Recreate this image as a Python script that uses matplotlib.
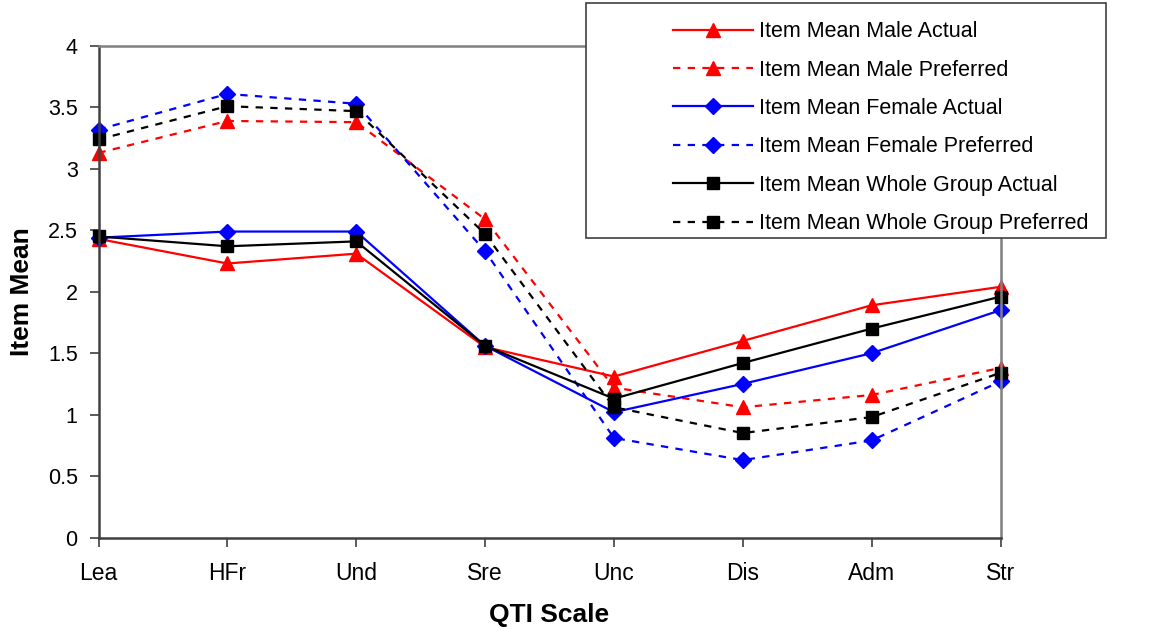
import matplotlib
matplotlib.use("Agg")
import matplotlib.pyplot as plt
from matplotlib.patches import Rectangle

plt.rcParams['font.family'] = ['Liberation Sans', 'DejaVu Sans']

scales = ["Lea", "HFr", "Und", "Sre", "Unc", "Dis", "Adm", "Str"]

male_actual = [2.43, 2.23, 2.31, 1.55, 1.31, 1.60, 1.89, 2.04]
male_preferred = [3.13, 3.39, 3.38, 2.59, 1.22, 1.06, 1.16, 1.38]
female_actual = [2.44, 2.49, 2.49, 1.56, 1.02, 1.25, 1.50, 1.85]
female_preferred = [3.32, 3.61, 3.53, 2.33, 0.81, 0.63, 0.79, 1.27]
whole_actual = [2.45, 2.37, 2.41, 1.56, 1.13, 1.42, 1.70, 1.96]
whole_preferred = [3.24, 3.51, 3.47, 2.47, 1.06, 0.85, 0.98, 1.34]

yticks = [0, 0.5, 1, 1.5, 2, 2.5, 3, 3.5, 4]

fig = plt.figure(figsize=(11.74, 6.27), dpi=100)
ax = fig.add_axes([98.5 / 1174, 1 - 537.5 / 627, (1000.5 - 98.5) / 1174, (537.5 - 46) / 627])

dot = (0, (3.3, 3.3))
series = [
    (male_actual, "red", "-", "^", 10, "Item Mean Male Actual"),
    (male_preferred, "red", dot, "^", 10, "Item Mean Male Preferred"),
    (female_actual, "blue", "-", "D", 8, "Item Mean Female Actual"),
    (female_preferred, "blue", dot, "D", 8, "Item Mean Female Preferred"),
    (whole_actual, "black", "-", "s", 8.5, "Item Mean Whole Group Actual"),
    (whole_preferred, "black", dot, "s", 8.5, "Item Mean Whole Group Preferred"),
]

x = list(range(len(scales)))
handles = []
for vals, col, ls, mk, ms, lab in series:
    h, = ax.plot(x, vals, color=col, linestyle=ls, linewidth=1.6, marker=mk,
                 markersize=ms, markerfacecolor=col, markeredgecolor=col,
                 label=lab, clip_on=False)
    handles.append(h)

ax.set_xlim(0, 7)
ax.set_ylim(0, 4)
ax.set_xticks(x)
ax.set_xticklabels(scales, fontsize=16.5)
ax.set_yticks(yticks)
ax.set_yticklabels([f"{v:g}" for v in yticks], fontsize=15.5)
ax.tick_params(direction="out", length=6.5, width=1.2, color="#404040")
ax.tick_params(axis="y", pad=8.5)
ax.tick_params(axis="x", pad=11)

for side in ("left", "bottom"):
    ax.spines[side].set_color("#404040")
    ax.spines[side].set_linewidth(1.8)
for side in ("top", "right"):
    ax.spines[side].set_color("#808080")
    ax.spines[side].set_linewidth(1.8)

ax.set_xlabel("QTI Scale", fontsize=19, fontweight="bold", labelpad=13)
ax.set_ylabel("Item Mean", fontsize=19, fontweight="bold", labelpad=10)

# legend box drawn separately so the entries can sit to the right inside it
fig.patches.append(Rectangle((586 / 1174, 1 - 238 / 627), 520 / 1174, 235 / 627,
                             transform=fig.transFigure, facecolor="white",
                             edgecolor="#404040", linewidth=1.2, zorder=5))
leg = fig.legend(handles=handles, loc="upper left",
                 bbox_to_anchor=(658 / 1174, 1 - 6 / 627),
                 frameon=False, fontsize=15.5, handlelength=3.72,
                 handletextpad=0.28, labelspacing=0.81, borderpad=0.2)
leg.set_zorder(6)

fig.savefig("out.png", dpi=100)
